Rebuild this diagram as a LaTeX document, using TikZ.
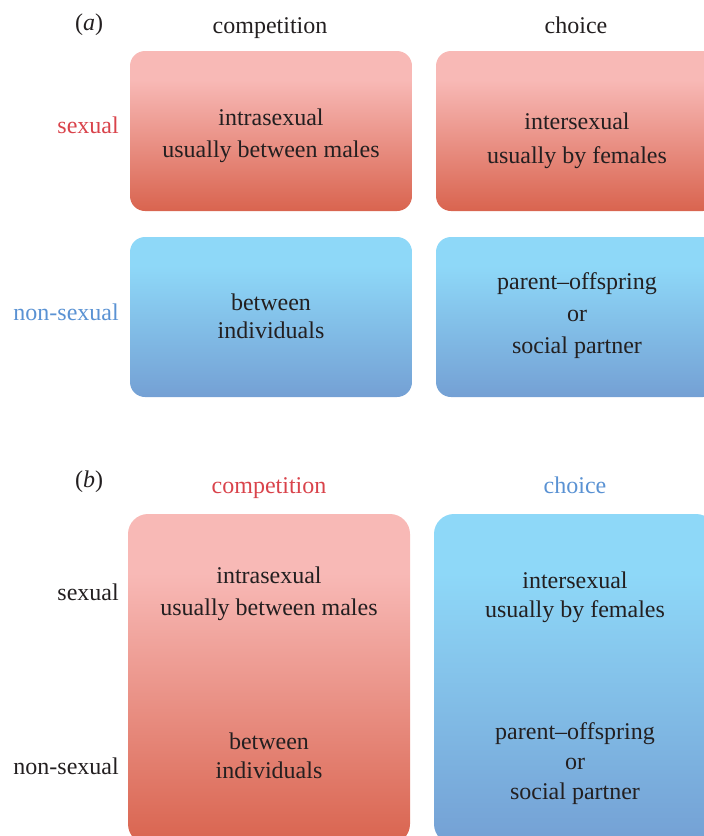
\documentclass[tikz,border=0pt]{standalone}
\usepackage{fontspec}
\setmainfont{Liberation Serif}
\definecolor{redlight}{HTML}{F8B9B6}
\definecolor{reddark}{HTML}{D9644F}
\definecolor{bluelight}{HTML}{8ED8F8}
\definecolor{bluedark}{HTML}{74A0D4}
\definecolor{ink}{HTML}{231F20}
\definecolor{redlabel}{HTML}{D9434B}
\definecolor{bluelabel}{HTML}{5A92D3}
\pgfdeclareverticalshading{redgrad}{100bp}{color(0bp)=(reddark); color(25bp)=(reddark); color(66bp)=(redlight); color(100bp)=(redlight)}
\pgfdeclareverticalshading{bluegrad}{100bp}{color(0bp)=(bluedark); color(25bp)=(bluedark); color(66bp)=(bluelight); color(100bp)=(bluelight)}
\begin{document}
\begin{tikzpicture}[x=1pt,y=-1pt,
  box/.style={draw=none, inner sep=0pt, outer sep=0pt, minimum width=282pt},
  abox/.style={box, rounded corners=15pt, minimum height=160pt},
  bigbox/.style={box, rounded corners=20pt, minimum height=330pt},
  redbox/.style={shading=redgrad},
  bluebox/.style={shading=bluegrad},
  txt/.style={text=ink, align=center, anchor=base, inner sep=0pt, font=\fontsize{24}{#1}\selectfont},
  txt/.default=32,
  lab/.style={anchor=base east, inner sep=0pt, font=\fontsize{24}{30}\selectfont},
  head/.style={anchor=base, inner sep=0pt, font=\fontsize{24}{30}\selectfont}]
\useasboundingbox (0,0) rectangle (704,836);
\clip (0,0) rectangle (704,836);
% panel (a)
\node[head, text=ink] (pa) at (89,30) {(\textit{a})};
\node[head, text=ink] (ha1) at (270,33) {competition};
\node[head, text=ink] (ha2) at (576,33) {choice};
\node[lab, text=redlabel] (la1) at (119,133) {sexual};
\node[lab, text=bluelabel] (la2) at (119,320) {non-sexual};
\node[abox, redbox] (a11) at (271,131) {};
\node[abox, redbox] (a12) at (577,131) {};
\node[abox, bluebox] (a21) at (271,317) {};
\node[abox, bluebox] (a22) at (577,317) {};
\node[txt=32] (ta11) at (271,157) {intrasexual\\usually between males};
\node[txt=34] (ta12) at (577,163) {intersexual\\usually by females};
\node[txt=28] (ta21) at (271,338) {between\\individuals};
\node[txt=32] (ta22) at (577,353) {parent–offspring\\or\\social partner};
% panel (b)
\node[head, text=ink] (pb) at (89,487) {(\textit{b})};
\node[head, text=redlabel] (hb1) at (269,493) {competition};
\node[head, text=bluelabel] (hb2) at (575,493) {choice};
\node[lab, text=ink] (lb1) at (119,600) {sexual};
\node[lab, text=ink] (lb2) at (119,774) {non-sexual};
\node[bigbox, redbox] (b1) at (269,679) {};
\node[bigbox, bluebox] (b2) at (575,679) {};
\node[txt=32] (tb11) at (269,615) {intrasexual\\usually between males};
\node[txt=29] (tb12) at (269,778) {between\\individuals};
\node[txt=29] (tb21) at (575,617) {intersexual\\usually by females};
\node[txt=30] (tb22) at (575,799) {parent–offspring\\or\\social partner};
\end{tikzpicture}
\end{document}
